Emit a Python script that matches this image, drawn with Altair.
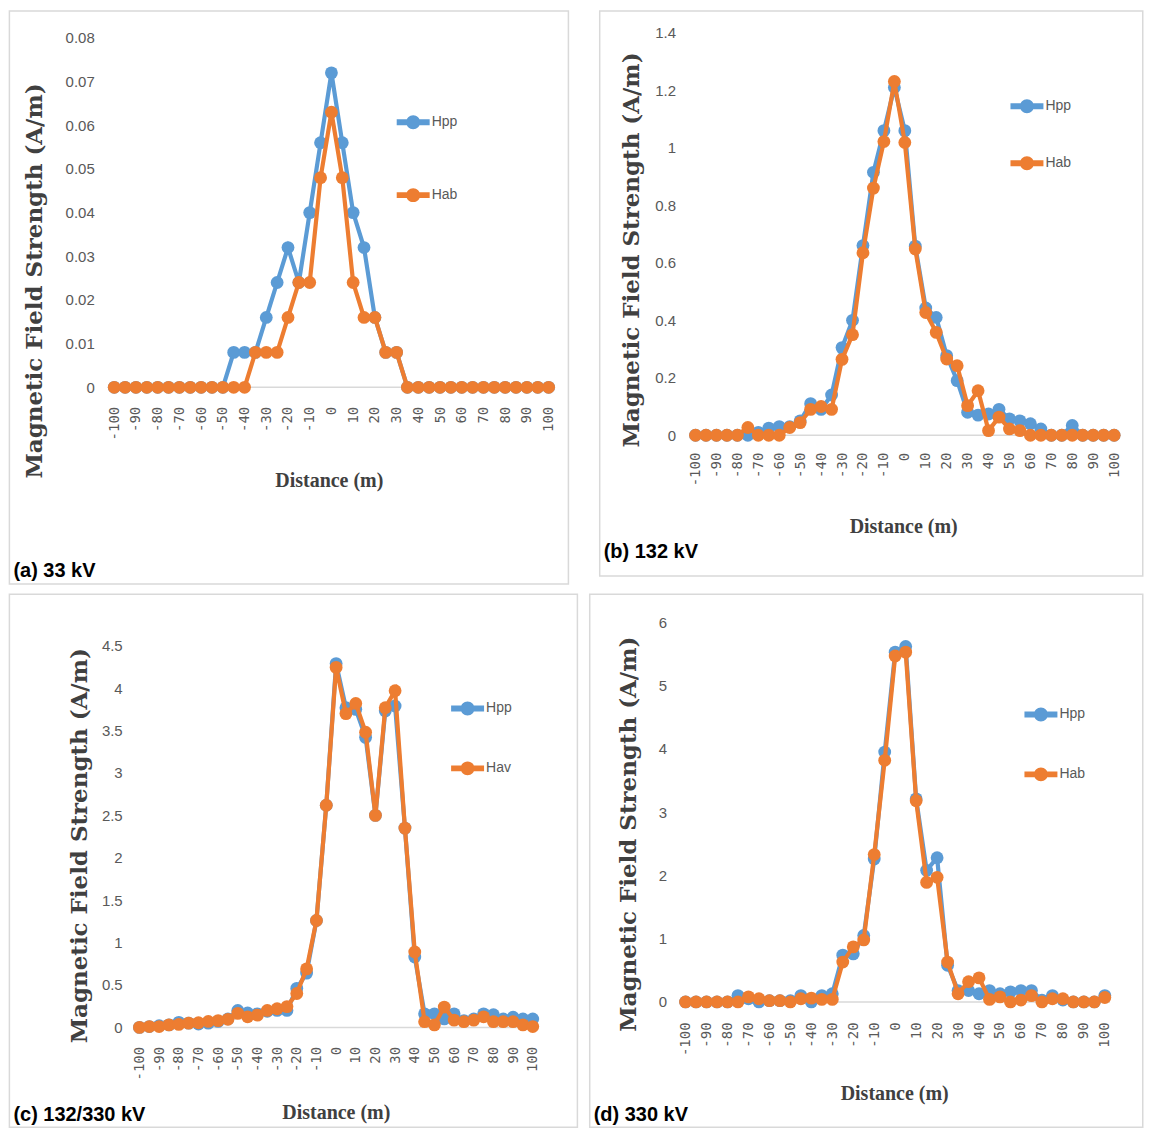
import altair as alt
import pandas as pd

# ---------------- data ----------------
distance = [-100, -95, -90, -85, -80, -75, -70, -65, -60, -55, -50, -45, -40, -35,
            -30, -25, -20, -15, -10, -5, 0, 5, 10, 15, 20, 25, 30, 35, 40, 45, 50,
            55, 60, 65, 70, 75, 80, 85, 90, 95, 100]
distance_ticks = [-100, -90, -80, -70, -60, -50, -40, -30, -20, -10, 0,
                  10, 20, 30, 40, 50, 60, 70, 80, 90, 100]

# (a) 33 kV
a_hpp = [0, 0, 0, 0, 0, 0, 0, 0, 0, 0, 0, 0.008, 0.008, 0.008, 0.016, 0.024, 0.032,
         0.024, 0.040, 0.056, 0.072, 0.056, 0.040, 0.032, 0.016, 0.008, 0.008, 0,
         0, 0, 0, 0, 0, 0, 0, 0, 0, 0, 0, 0, 0]
a_hab = [0, 0, 0, 0, 0, 0, 0, 0, 0, 0, 0, 0, 0, 0.008, 0.008, 0.008, 0.016, 0.024,
         0.024, 0.048, 0.063, 0.048, 0.024, 0.016, 0.016, 0.008, 0.008, 0, 0, 0,
         0, 0, 0, 0, 0, 0, 0, 0, 0, 0, 0]
# (b) 132 kV
b_hpp = [0, 0, 0, 0, 0, 0, 0.01, 0.025, 0.03, 0.03, 0.05, 0.11, 0.09, 0.14, 0.305,
         0.40, 0.66, 0.915, 1.06, 1.21, 1.06, 0.658, 0.443, 0.41, 0.277, 0.19, 0.08,
         0.07, 0.074, 0.09, 0.057, 0.05, 0.04, 0.022, 0, 0, 0.034, 0, 0, 0, 0]
b_hab = [0, 0, 0, 0, 0, 0.027, 0, 0, 0, 0.027, 0.044, 0.09, 0.10, 0.09, 0.264,
         0.35, 0.635, 0.86, 1.022, 1.231, 1.019, 0.648, 0.427, 0.358, 0.265, 0.242,
         0.103, 0.155, 0.016, 0.063, 0.022, 0.016, 0, 0, 0, 0, 0, 0, 0, 0, 0]
# (c) 132/330 kV
c_hpp = [0, 0.01, 0.02, 0.03, 0.06, 0.05, 0.04, 0.05, 0.07, 0.10, 0.20, 0.17,
         0.16, 0.19, 0.20, 0.20, 0.46, 0.64, 1.26, 2.62, 4.29, 3.77, 3.75, 3.42,
         2.50, 3.73, 3.79, 2.35, 0.83, 0.16, 0.16, 0.10, 0.16, 0.08, 0.10, 0.16,
         0.15, 0.10, 0.12, 0.10, 0.10]
c_hav = [0, 0.01, 0.01, 0.03, 0.035, 0.05, 0.055, 0.07, 0.08, 0.095, 0.165,
         0.125, 0.145, 0.20, 0.22, 0.245, 0.40, 0.69, 1.26, 2.62, 4.245, 3.70,
         3.82, 3.48, 2.50, 3.77, 3.97, 2.35, 0.89, 0.067, 0.03, 0.24, 0.086,
         0.067, 0.086, 0.125, 0.067, 0.067, 0.067, 0.03, 0.01]
# (d) 330 kV
d_hpp = [0, 0, 0, 0, 0, 0.10, 0.05, 0, 0.02, 0.02, 0.02, 0.10, 0, 0.10, 0.13,
         0.74, 0.76, 1.05, 2.26, 3.95, 5.53, 5.62, 3.21, 2.08, 2.28, 0.58, 0.18,
         0.18, 0.13, 0.18, 0.13, 0.16, 0.18, 0.18, 0.03, 0.10, 0.03, 0, 0, 0, 0.10]
d_hab = [0, 0, 0, 0, 0, 0, 0.08, 0.05, 0.02, 0.02, 0, 0.05, 0.06, 0.04, 0.04,
         0.63, 0.87, 0.98, 2.33, 3.82, 5.47, 5.53, 3.18, 1.89, 1.97, 0.63, 0.13,
         0.32, 0.38, 0.04, 0.08, 0, 0.03, 0.10, 0, 0.05, 0.05, 0, 0, 0, 0.07]

a_yticks = [0, 0.01, 0.02, 0.03, 0.04, 0.05, 0.06, 0.07, 0.08]
b_yticks = [0, 0.2, 0.4, 0.6, 0.8, 1, 1.2, 1.4]
c_yticks = [0, 0.5, 1, 1.5, 2, 2.5, 3, 3.5, 4, 4.5]
d_yticks = [0, 1, 2, 3, 4, 5, 6]

series_ab = ["Hpp", "Hab"]
series_av = ["Hpp", "Hav"]
captions = ["(a) 33 kV", "(b) 132 kV", "(c) 132/330 kV", "(d) 330 kV"]
y_title = "Magnetic Field Strength (A/m)"
x_title = "Distance (m)"

# ---------------- style ----------------
BLUE = "#5B9BD5"
ORANGE = "#ED7D31"
GRAY_TXT = "#595959"
TITLE_TXT = "#404040"
FRAME = "#d9d9d9"
LEGEND_SYMBOL = ("M-1.065,-0.19L1.065,-0.19L1.065,0.19L-1.065,0.19Z "
                 "M0.45,0A0.45,0.45,0,1,1,-0.45,0A0.45,0.45,0,1,1,0.45,0Z")


def panel(first, second, names, xdomain, ydomain, yticks, caption, g):
    left, top, w, h = g["plot"]
    bottom = top + h
    n = len(distance)
    df = pd.DataFrame({
        "Distance": distance + distance,
        "H": first + second,
        "Series": [names[0]] * n + [names[1]] * n,
    })
    base_df = pd.DataFrame({"Distance": [-102.5], "Distance2": [102.5], "H": [0.0]})

    xaxis = alt.Axis(
        values=distance_ticks, labelAngle=270, labelExpr="'' + datum.value",
        labelFont="DejaVu Sans Mono", labelFontSize=14, labelColor=GRAY_TXT,
        labelPadding=g["xpad"], ticks=False, tickSize=0, grid=False, domain=False,
        labelOverlap=False, labelFlush=False,
        title=x_title, titleFont="Liberation Serif", titleFontSize=20,
        titleFontWeight="bold", titleColor=TITLE_TXT,
        titleX=g["xtitle"][0] - left, titleY=g["xtitle"][1] - bottom,
        titleAlign="center", titleBaseline="middle",
    )
    yaxis = alt.Axis(
        values=yticks, format="~g", domain=False, ticks=False, tickSize=0,
        grid=False, labelFont="Liberation Sans", labelFontSize=15,
        labelColor=GRAY_TXT, labelPadding=left - g["ylabel_right"],
        title=y_title, titleFont="DejaVu Serif", titleFontSize=23,
        titleFontWeight="bold", titleColor=TITLE_TXT, titleAngle=270,
        titleX=g["ytitle"][0] - left, titleY=g["ytitle"][1] - top,
        titleAlign="center", titleBaseline="middle",
    )
    x = alt.X("Distance:Q", axis=xaxis,
              scale=alt.Scale(domain=xdomain, nice=False, zero=False))
    y = alt.Y("H:Q", axis=yaxis, scale=alt.Scale(domain=ydomain, nice=False, zero=False))
    cscale = alt.Scale(domain=names, range=[BLUE, ORANGE])

    fx0, fy0, fx1, fy1 = g["frame"]
    frame = alt.Chart(pd.DataFrame({"k": [0]})).mark_rect(
        fillOpacity=0, stroke=FRAME, strokeWidth=1.5
    ).encode(x=alt.value(fx0 - left), x2=alt.value(fx1 - left),
             y=alt.value(fy0 - top), y2=alt.value(fy1 - top))

    cap = alt.Chart(pd.DataFrame({"caption": [caption]})).mark_text(
        align="left", baseline="alphabetic", font="Liberation Sans",
        fontSize=20, fontWeight="bold", color="#000000"
    ).encode(x=alt.value(g["caption"][0] - left), y=alt.value(g["caption"][1] - top),
             text="caption:N")

    zero_line = alt.Chart(base_df).mark_rule(color=FRAME, strokeWidth=1.5).encode(
        x=x, x2="Distance2:Q", y=y)

    lx, ly = g["legend"]
    legend = alt.Legend(
        orient="none", legendX=lx - left - 15.5, legendY=ly - top - 18,
        title=None, direction="vertical", symbolType=LEGEND_SYMBOL,
        symbolSize=961, symbolStrokeWidth=0, labelFont="Liberation Sans",
        labelFontSize=14, labelColor=GRAY_TXT, labelOffset=3,
        rowPadding=g["rowpad"], padding=0,
    )
    layers = [frame, cap, zero_line]
    for nm, col in zip(names, [BLUE, ORANGE]):
        sub = alt.Chart(df).transform_filter(alt.datum.Series == nm).encode(x=x, y=y)
        layers.append(sub.mark_line(strokeWidth=4.2, color=col))
        layers.append(sub.mark_circle(size=165, opacity=1).encode(
            color=alt.Color("Series:N", scale=cscale, legend=legend)))
    return alt.layer(*layers).properties(width=w, height=h)


L1, L2, T1, T2 = 107.6, 678.75, 30.0, 618.3
geo_a = dict(plot=(L1, T1, 446, 355), frame=(8, 8, 568, 582),
             ytitle=(33, 278), xtitle=(328, 478), ylabel_right=93, xpad=19,
             legend=(412.5, 122), rowpad=50, caption=(12, 575))
geo_b = dict(plot=(L2, T1, 439.8, 403), frame=(598, 8, 1142, 574),
             ytitle=(630, 247), xtitle=(902, 524), ylabel_right=674, xpad=17,
             legend=(1026, 106), rowpad=34, caption=(602, 556))
geo_c = dict(plot=(L1, T2, 429.6, 405.7), frame=(8, 590, 577, 1124),
             ytitle=(78, 841.5), xtitle=(335, 1109), ylabel_right=121, xpad=19,
             legend=(467, 707), rowpad=37, caption=(12, 1118))
geo_d = dict(plot=(L2, T2, 430.5, 380.2), frame=(588, 590, 1142, 1124),
             ytitle=(627, 830), xtitle=(893, 1090), ylabel_right=665, xpad=20,
             legend=(1040, 713), rowpad=37, caption=(592, 1118))

pa = panel(a_hpp, a_hab, series_ab, [-102.5, 102.5], [0, 0.08114], a_yticks, captions[0], geo_a)
pb = panel(b_hpp, b_hab, series_ab, [-107.27, 102.5], [0, 1.4], b_yticks, captions[1], geo_b)
pc = panel(c_hpp, c_hav, series_av, [-115.58, 102.5], [0, 4.7753], c_yticks, captions[2], geo_c)
pd_ = panel(d_hpp, d_hab, series_ab, [-102.5, 102.5], [0, 6], d_yticks, captions[3], geo_d)

row1 = alt.hconcat(pa, pb, spacing=28.5).resolve_scale(color="independent", x="independent", y="independent")
row2 = alt.hconcat(pc, pd_, spacing=9.5).resolve_scale(color="independent", x="independent", y="independent")
chart = alt.vconcat(row1, row2, spacing=6.5).resolve_scale(
    color="independent", x="independent", y="independent"
).properties(padding=0, background="white").configure_view(stroke="transparent")

chart.save("out.html", embed_options={"renderer": "svg", "actions": False})
